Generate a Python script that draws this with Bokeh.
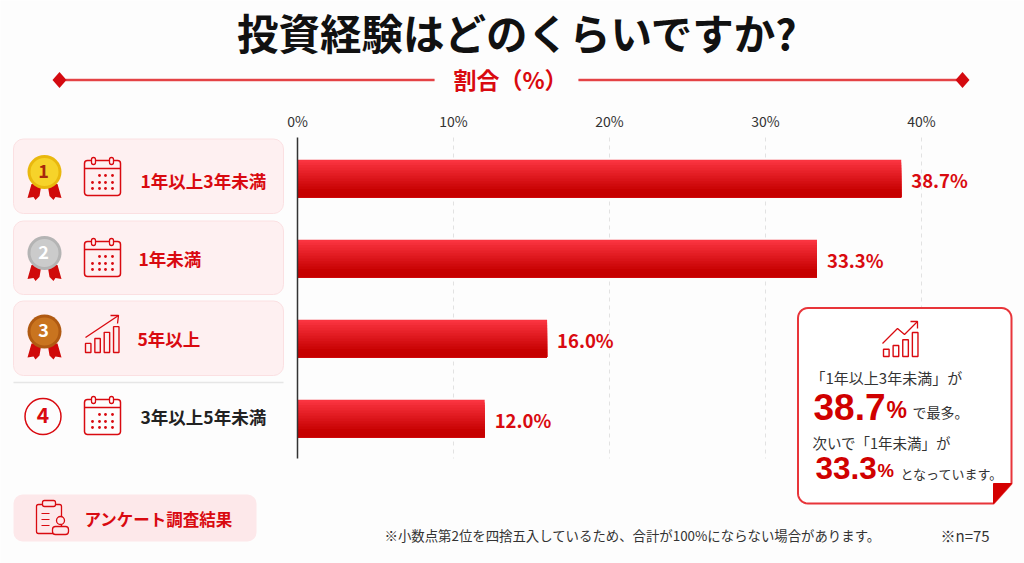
import numpy as np
from bokeh.plotting import figure
from bokeh.embed import file_html
from bokeh.resources import INLINE
from bokeh.core.properties import value
from bokeh.models import Range1d, LinearAxis, FixedTicker, PrintfTickFormatter

categories = ["1年以上3年未満", "1年未満", "5年以上", "3年以上5年未満"]
shares = [38.7, 33.3, 16.0, 12.0]
ranks = [1, 2, 3, 4]
tick_values = [0, 10, 20, 30, 40]

RED = "#d90a10"
DARK = "#222222"
BG = "#fdfdfd"
JP = "Noto Sans CJK JP"

W, H = 1024, 563
PX_PER_PCT = 15.6
ZERO_X = 297
ROW0 = 178
ROW_H = 80
def pct(px): return (px - ZERO_X) / PX_PER_PCT
def rank(py): return 1 + (py - ROW0) / ROW_H

p = figure(width=W, height=H, output_backend="svg", toolbar_location=None,
           x_range=Range1d(pct(0), pct(W)), y_range=Range1d(rank(H), rank(0)),
           x_axis_location=None, y_axis_location=None, min_border=0,
           background_fill_color=BG, border_fill_color=BG, outline_line_color=None)
p.xgrid.visible = False
p.ygrid.visible = False
p.extra_x_ranges["px"] = Range1d(0, W)
p.extra_y_ranges["py"] = Range1d(H, 0)
PX = dict(x_range_name="px", y_range_name="py")

def txt(x, y, s, size, color=DARK, bold=False, align="left", font=JP):
    p.text([x], [y - 1.5], text=[s], text_font=value(font), text_font_size=f"{size}px",
           text_color=color, text_font_style="bold" if bold else "normal",
           text_align=align, text_baseline="middle", **PX)

def round_box(x0, y0, x1, y1, fill, line, r=10, w=1.0):
    p.quad(left=[x0], right=[x1], top=[y0], bottom=[y1], fill_color=fill, line_color=line,
           line_width=w, border_radius=r, **PX)

# ---- axis + dashed guides
ticker = FixedTicker(ticks=tick_values)
ax = LinearAxis(ticker=ticker, formatter=PrintfTickFormatter(format="%d%%"),
                fixed_location=rank(136), axis_line_color=None, major_tick_line_color=None,
                minor_tick_line_color=None, major_label_text_font=JP,
                major_label_text_font_size="14px", major_label_text_color="#333333",
                major_label_standoff=0)
p.add_layout(ax, "above")
p.segment(x0=tick_values[1:], x1=tick_values[1:], y0=[rank(137)] * 4, y1=[rank(458)] * 4,
          line_color="#e2e2e2", line_dash="4 4", line_width=1)

# ---- title
txt(517, 33, "投資経験はどのくらいですか?", 41.5, "#111111", True, "center")
txt(510, 80, "割合（%）", 23, RED, True, "center")
for a, b in [(65, 434), (578, 957)]:
    p.line([a, b], [79.5, 79.5], line_color="#f3a6a8", line_width=3, **PX)
    p.line([a, b], [79.5, 79.5], line_color="#df2025", line_width=1.5, **PX)
for cx in (59, 962):
    p.patch([cx - 7, cx, cx + 7, cx], [79.5, 71.5, 79.5, 87.5], fill_color="#d40a10", line_color=None, **PX)

# ---- row panels
for y0, y1 in [(138.5, 213), (220.5, 294), (300.5, 375)]:
    round_box(13, y0, 283, y1, "#fef0f1", "#fbe0e2")
p.line([13, 283], [382, 382], line_color="#e6e6e6", line_width=1.5, **PX)

def medal(cy, outer, inner, digit, dcol):
    cx = 44
    for s in (-1, 1):
        xs = [cx + s * 3, cx + s * 13, cx + s * 17, cx + s * 11, cx + s * 9, cx + s * 5]
        ys = [cy + 12, cy + 12, cy + 26, cy + 25, cy + 28, cy + 24]
        p.patch(xs, ys, fill_color="#d00a0a", line_color=None, **PX)
    p.circle([cx], [cy], radius=17, fill_color=outer, line_color=None, **PX)
    p.circle([cx], [cy], radius=14, fill_color=inner, line_color=None, **PX)
    txt(cx - 1, cy, digit, 18, dcol, True, "center")

medal(171.5, "#e9b80e", "#f6d32a", "1", "#a8280c")
medal(252.5, "#b4b4b4", "#cbcbcb", "2", "#ffffff")
medal(331, "#b05a12", "#c9741f", "3", "#ffffff")
p.circle([42.5], [416], radius=18, fill_color=None, line_color=RED, line_width=1.5, **PX)
txt(42.5, 416, "4", 21, RED, True, "center")

def calendar(x0, y0):
    round_box(x0, y0 + 2, x0 + 36, y0 + 37, None, RED, r=3, w=1.5)
    p.line([x0, x0 + 36], [y0 + 10, y0 + 10], line_color=RED, line_width=1.5, **PX)
    for rx in (x0 + 7, x0 + 25):
        round_box(rx, y0 - 1, rx + 4, y0 + 6, BG if y0 > 390 else "#fef0f1", RED, r=2, w=1.3)
    xs, ys = [], []
    for j, ry in enumerate((y0 + 17, y0 + 24, y0 + 30)):
        for i, rx in enumerate((x0 + 8, x0 + 15, x0 + 21, x0 + 28)):
            if j == 0 and i == 0:
                continue
            xs.append(rx); ys.append(ry)
    p.circle(xs, ys, radius=1.4, fill_color=RED, line_color=None, **PX)

calendar(84, 158)
calendar(84, 239)
calendar(84, 397)

def growth(x0, y0, w, h, fill, fracs):
    bw = w * 0.16
    for i, f in enumerate(fracs):
        bx = x0 + i * w * 0.275
        p.quad(left=[bx], right=[bx + bw], top=[y0 + h * (1 - f)], bottom=[y0 + h],
               fill_color=fill, line_color=RED, line_width=1.4, **PX)

growth(85, 314, 34, 38, "#fef0f1", [0.24, 0.37, 0.53, 0.68])
p.line([85, 118], [337, 315], line_color=RED, line_width=1.3, **PX)
p.line([110, 118, 117], [315, 315, 323], line_color=RED, line_width=1.3, **PX)

for y, c, x, col in [(181, categories[0], 140, RED), (259, categories[1], 138, RED),
                     (339, categories[2], 137, RED), (417, categories[3], 140, DARK)]:
    txt(x, y, c, 17.5, col, True)

# ---- bars (stacked slices fake the vertical gradient)
BAR_H = 0.47
c0 = np.array([250, 52, 64]); c1 = np.array([198, 0, 0])
N = 14
for i in range(N):
    t = i / (N - 1)
    col = "#%02x%02x%02x" % tuple(int(v) for v in (c0 + (c1 - c0) * min(1, t * 1.15)))
    top_off = -BAR_H / 2 + BAR_H * i / N
    ys = [r + (top_off + BAR_H / 2) / 2 for r in ranks]
    h = BAR_H / 2 - top_off
    p.hbar(y=ys, left=0, right=shares, height=h, fill_color=col, line_color=None)

p.segment(x0=[0], x1=[0], y0=[rank(137)], y1=[rank(458)], line_color="#333333", line_width=1.5)

p.text(x=shares, y=[r + 0.02 for r in ranks], text=[f"{v:.1f}%" for v in shares], x_offset=10,
       text_font=value(JP), text_font_size="18.5px", text_font_style="bold", text_color=RED,
       text_baseline="middle", text_align="left")

# ---- callout
x0, y0, x1, y1, fx, fy, r = 797.5, 307.5, 1011, 503, 993, 483, 10
def arc(cx, cy, a0, a1):
    t = np.radians(np.linspace(a0, a1, 8))
    return list(cx + r * np.cos(t)), list(cy + r * np.sin(t))
ax1, ay1 = arc(x0 + r, y0 + r, 180, 270)
ax2, ay2 = arc(x1 - r, y0 + r, 270, 360)
ax3, ay3 = arc(x0 + r, y1 - r, 90, 180)
p.patch(ax1 + ax2 + [x1, fx] + ax3, ay1 + ay2 + [fy, y1] + ay3, fill_color="#ffffff",
        line_color="#e8353a", line_width=2, **PX)
p.patch([fx, x1, fx], [fy, fy, y1], fill_color="#d40000", line_color="#d40000", **PX)

growth(883, 332, 35, 24, "#ffffff", [0.3, 0.46, 0.7, 1.0])
p.line([882, 897, 904, 917], [343, 328, 334, 321], line_color=RED, line_width=1.3, **PX)
p.line([910, 917, 917], [321, 321, 328], line_color=RED, line_width=1.3, **PX)

SANS = "Liberation Sans"
txt(810, 378, "「1年以上3年未満」が", 15, "#333333")
txt(813, 408, "38.7", 37, "#d00000", True, font=SANS)
txt(886, 411, "%", 23, "#d00000", True, font=SANS)
txt(912, 413, "で最多。", 14, "#333333")
txt(812, 443, "次いで「1年未満」が", 14.5, "#333333")
txt(815, 469, "33.3", 31.5, "#d00000", True, font=SANS)
txt(877, 471, "%", 18.5, "#d00000", True, font=SANS)
txt(900, 474, "となっています。", 13, "#333333")

# ---- footer
round_box(13, 494, 256, 541, "#fde8ea", None, r=9)
p.quad(left=[36], right=[61], top=[504], bottom=[533], fill_color="#fde8ea", line_color=RED, line_width=1.3,
       border_radius=2, **PX)
p.quad(left=[42], right=[55], top=[500], bottom=[506], fill_color="#fde8ea", line_color=RED, line_width=1.3,
       border_radius=2, **PX)
for yy in (513, 519, 525):
    p.line([41, 49], [yy, yy], line_color=RED, line_width=1.2, **PX)
p.circle([60], [520], radius=4, fill_color="#fde8ea", line_color=RED, line_width=1.3, **PX)
p.quad(left=[52], right=[68], top=[526], bottom=[534], fill_color="#fde8ea", line_color=RED, line_width=1.3,
       border_radius=3, **PX)
txt(84, 520, "アンケート調査結果", 16.5, RED, True)
txt(384, 536, "※小数点第2位を四捨五入しているため、合計が100%にならない場合があります。", 13.4, "#333333")
txt(940, 536, "※n=75", 15, "#333333")

open("out.html", "w").write(file_html(p, INLINE))
